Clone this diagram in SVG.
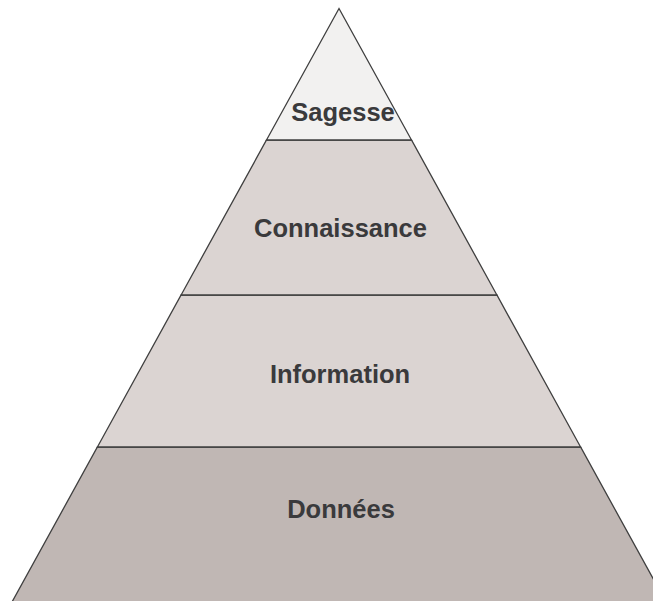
<svg xmlns="http://www.w3.org/2000/svg" width="653" height="601" viewBox="0 0 653 601">
  <style>
    .band { stroke: #3f3f3f; stroke-width: 1.3; stroke-linejoin: miter; }
    .lbl { font-family: "Liberation Sans", Arial, sans-serif; font-weight: bold; font-size: 25.5px; fill: #3a3a3c; text-anchor: middle; }
  </style>
  <rect width="653" height="601" fill="#ffffff"/>
  <g id="donnees">
    <polygon class="band" points="97.4,447 580.6,447 670.4,610 7.6,610" fill="#c0b7b4"/>
    <text class="lbl" x="341" y="518">Données</text>
  </g>
  <g id="information">
    <polygon class="band" points="181.1,295 496.9,295 580.6,447 97.4,447" fill="#dbd4d2"/>
    <text class="lbl" x="340" y="383">Information</text>
  </g>
  <g id="connaissance">
    <polygon class="band" points="266.5,140 411.5,140 496.9,295 181.1,295" fill="#dbd4d2"/>
    <text class="lbl" x="340.5" y="237">Connaissance</text>
  </g>
  <g id="sagesse">
    <polygon class="band" points="339,8.5 411.5,140 266.5,140" fill="#f2f1f0"/>
    <text class="lbl" x="343" y="121">Sagesse</text>
  </g>
</svg>
